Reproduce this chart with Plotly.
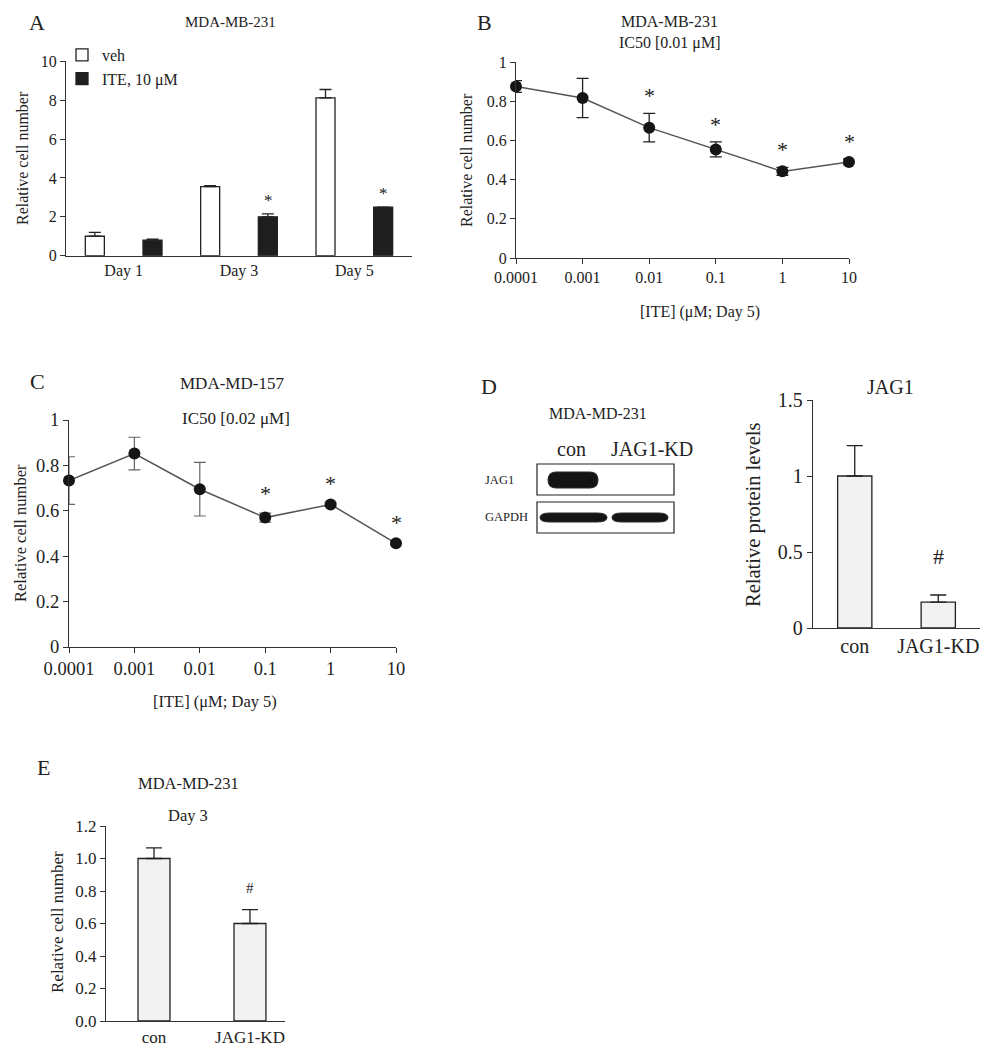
import math
import plotly.graph_objects as go

# The page body has an 8 px margin; coordinates below are screen pixels of the 994x1050 window.
OFF = 8
W, H = 994 - OFF, 1050 - OFF


def px(x):
    return (x - OFF) / W


def py(y):
    return 1 - (y - OFF) / H


# ---------------- data ----------------
days = ["Day 1", "Day 3", "Day 5"]
veh_vals = [1.0, 3.55, 8.12]
veh_err = [0.2, 0.05, 0.43]
ite_vals = [0.8, 2.0, 2.5]
ite_err = [0.05, 0.15, 0.0]
ite_sig = ["", "*", "*"]

conc = [0.0001, 0.001, 0.01, 0.1, 1, 10]
conc_labels = ["0.0001", "0.001", "0.01", "0.1", "1", "10"]
b_vals = [0.875, 0.816, 0.665, 0.554, 0.442, 0.49]
b_err = [0.03, 0.10, 0.073, 0.038, 0.02, 0.015]
b_sig = ["", "", "*", "*", "*", "*"]
c_vals = [0.733, 0.852, 0.695, 0.570, 0.628, 0.457]
c_err = [0.105, 0.072, 0.118, 0.02, 0.008, 0.006]
c_sig = ["", "", "", "*", "*", "*"]

kd_groups = ["con", "JAG1-KD"]
d_vals = [1.0, 0.17]
d_err = [0.2, 0.047]
d_sig = ["", "#"]
e_vals = [1.0, 0.6]
e_err = [0.065, 0.085]
e_sig = ["", "#"]

FONT = "Liberation Serif, Times New Roman, DejaVu Serif, serif"
INK = "#222222"
AX = "#333333"

fig = go.Figure()

# ---------------- panel A ----------------
fig.add_trace(go.Bar(
    x=days, y=veh_vals, name="veh", width=0.165, offset=-0.3325,
    marker=dict(color="white", line=dict(color=INK, width=1.3)),
    error_y=dict(type="data", symmetric=False, array=veh_err, arrayminus=[0] * len(veh_err),
                 color=INK, thickness=1.3, width=6),
    xaxis="x", yaxis="y", showlegend=True))
fig.add_trace(go.Bar(
    x=days, y=ite_vals, name="ITE, 10 μM", width=0.165, offset=0.1675,
    marker=dict(color="#1e1e1e", line=dict(color=INK, width=1.3)),
    error_y=dict(type="data", symmetric=False, array=ite_err, arrayminus=[0] * len(ite_err),
                 color=INK, thickness=1.3, width=6),
    xaxis="x", yaxis="y", showlegend=True))

# ---------------- panel B ----------------
fig.add_trace(go.Scatter(
    x=conc, y=b_vals, mode="lines+markers",
    line=dict(color="#555555", width=1.5),
    marker=dict(size=12, color="#151515"),
    error_y=dict(type="data", array=b_err, color=INK, thickness=1.3, width=6),
    xaxis="x2", yaxis="y2", showlegend=False, cliponaxis=False))

# ---------------- panel C ----------------
fig.add_trace(go.Scatter(
    x=conc, y=c_vals, mode="lines+markers",
    line=dict(color="#555555", width=1.5),
    marker=dict(size=12, color="#151515"),
    error_y=dict(type="data", array=c_err, color="#666666", thickness=1.2, width=6),
    xaxis="x3", yaxis="y3", showlegend=False, cliponaxis=False))

# ---------------- panel D (bars) ----------------
fig.add_trace(go.Bar(
    x=kd_groups, y=d_vals, width=0.41,
    marker=dict(color="#f2f2f2", line=dict(color=INK, width=1.3)),
    error_y=dict(type="data", symmetric=False, array=d_err, arrayminus=[0] * len(d_err),
                 color=INK, thickness=1.3, width=8),
    xaxis="x4", yaxis="y4", showlegend=False))

# ---------------- panel E ----------------
fig.add_trace(go.Bar(
    x=kd_groups, y=e_vals, width=0.333,
    marker=dict(color="#f2f2f2", line=dict(color=INK, width=1.3)),
    error_y=dict(type="data", symmetric=False, array=e_err, arrayminus=[0] * len(e_err),
                 color=INK, thickness=1.3, width=8),
    xaxis="x5", yaxis="y5", showlegend=False))


def xdom(a, b):
    return [px(a), px(b)]


def ydom(top, bottom):
    return [py(bottom), py(top)]


def yax(dom, rng, size, dtick, anchor, fmt=None):
    d = dict(domain=dom, range=rng, dtick=dtick, tick0=0, showline=True, linecolor=AX,
             linewidth=1.3, ticks="outside", ticklen=5, tickcolor=AX, tickwidth=1.2,
             showgrid=False, zeroline=False, anchor=anchor, automargin=False,
             tickfont=dict(family=FONT, size=size, color=INK))
    if fmt:
        d["tickformat"] = fmt
    return d


def xcat(dom, rng, size, anchor):
    return dict(domain=dom, range=rng, type="category", showline=True, linecolor=AX,
                linewidth=1.3, ticks="", showgrid=False, zeroline=False, anchor=anchor,
                automargin=False, tickfont=dict(family=FONT, size=size, color=INK))


def xlog(dom, size, anchor):
    return dict(domain=dom, type="log", range=[-4, 1], tickvals=conc, ticktext=conc_labels,
                showline=True, linecolor=AX, linewidth=1.3, ticks="outside", ticklen=5,
                tickcolor=AX, tickwidth=1.2, showgrid=False, zeroline=False, anchor=anchor,
                automargin=False, tickfont=dict(family=FONT, size=size, color=INK))


layout = dict(
    template="none",
    width=W, height=H, margin=dict(l=0, r=0, t=0, b=0, pad=0, autoexpand=False),
    paper_bgcolor="white", plot_bgcolor="rgba(0,0,0,0)",
    barmode="overlay",
    font=dict(family=FONT, color=INK),
    xaxis=xcat(xdom(66, 412), [-0.5, 2.5], 16, "y"),
    yaxis=yax(ydom(61.3, 255.7), [0, 10], 16, 2, "x"),
    xaxis2=xlog(xdom(516, 849), 16, "y2"),
    yaxis2=yax(ydom(62, 258), [0, 1], 16, 0.2, "x2"),
    xaxis3=xlog(xdom(69, 396), 18.5, "y3"),
    yaxis3=yax(ydom(420, 647), [0, 1], 18.5, 0.2, "x3"),
    xaxis4=xcat(xdom(813, 980), [-0.5, 1.5], 20, "y4"),
    yaxis4=yax(ydom(400, 628), [0, 1.5], 20, 0.5, "x4"),
    xaxis5=xcat(xdom(106, 285), [-0.5, 1.365], 17, "y5"),
    yaxis5=yax(ydom(826, 1021), [0, 1.2], 17, 0.2, "x5", fmt=".1f"),
    legend=dict(x=px(62), y=py(38), xanchor="left", yanchor="top",
                bgcolor="rgba(0,0,0,0)", font=dict(family=FONT, size=16, color=INK),
                itemwidth=30, tracegroupgap=0, traceorder="normal"),
)
fig.update_layout(**layout)

ann = []


def text(x, y, s, size, angle=0, xanchor="center", yanchor="middle"):
    ann.append(dict(x=px(x), y=py(y), xref="paper", yref="paper", text=s, showarrow=False,
                    textangle=angle, xanchor=xanchor, yanchor=yanchor,
                    font=dict(family=FONT, size=size, color=INK)))


# panel letters
text(37, 22, "A", 22)
text(484, 22, "B", 22)
text(37, 382, "C", 22)
text(489, 386, "D", 22)
text(43, 767, "E", 22)

# panel A texts
text(230, 22, "MDA-MB-231", 15)
text(22, 158, "Relative cell number", 16, angle=-90)

# panel B texts
text(669, 21, "MDA-MB-231", 16)
text(669, 43, "IC50 [0.01 μM]", 16)
text(466, 160, "Relative cell number", 16, angle=-90)
text(700, 312, "[ITE] (μM; Day 5)", 16)

# panel C texts
text(232, 383, "MDA-MD-157", 17)
text(236, 419, "IC50 [0.02 μM]", 17)
text(20, 533, "Relative cell number", 16.5, angle=-90)
text(215, 702, "[ITE] (μM; Day 5)", 16.5)

# panel D texts
text(598, 413, "MDA-MD-231", 16)
text(571, 449, "con", 20)
text(652, 449, "JAG1-KD", 20)
text(516, 480, "JAG1", 12.5, xanchor="right")
text(530, 517, "GAPDH", 12.5, xanchor="right")
text(890, 387, "JAG1", 20)
text(753, 515, "Relative protein levels", 20.5, angle=-90)

# panel E texts
text(188, 783, "MDA-MD-231", 16.5)
text(188, 815, "Day 3", 16.5)
text(57, 922, "Relative cell number", 17, angle=-90)

# significance markers from data
for d, v, e, s in zip(days, ite_vals, ite_err, ite_sig):
    if s:
        ann.append(dict(x=d, y=v + e, xref="x", yref="y", text=s, showarrow=False,
                        xshift=29, yshift=2, yanchor="bottom",
                        font=dict(family=FONT, size=17, color=INK)))
for c, v, e, s in zip(conc, b_vals, b_err, b_sig):
    if s:
        ann.append(dict(x=math.log10(c), y=v + e, xref="x2", yref="y2", text=s,
                        showarrow=False, yshift=3, yanchor="bottom",
                        font=dict(family=FONT, size=22, color=INK)))
for c, v, e, s in zip(conc, c_vals, c_err, c_sig):
    if s:
        ann.append(dict(x=math.log10(c), y=v + e, xref="x3", yref="y3", text=s,
                        showarrow=False, yshift=5, yanchor="bottom",
                        font=dict(family=FONT, size=22, color=INK)))
for g, v, e, s in zip(kd_groups, d_vals, d_err, d_sig):
    if s:
        ann.append(dict(x=g, y=v + e, xref="x4", yref="y4", text=s, showarrow=False,
                        yshift=24, yanchor="bottom",
                        font=dict(family=FONT, size=22, color=INK)))
for g, v, e, s in zip(kd_groups, e_vals, e_err, e_sig):
    if s:
        ann.append(dict(x=g, y=v + e, xref="x5", yref="y5", text=s, showarrow=False,
                        yshift=12, yanchor="bottom",
                        font=dict(family=FONT, size=15, color=INK)))

fig.update_layout(annotations=ann)

# ---------------- western blot drawing (panel D, left) ----------------
shapes = []


def rect(x0, y0, x1, y1, fill="white", line=INK, lw=1.2):
    shapes.append(dict(type="rect", xref="paper", yref="paper", x0=px(x0), x1=px(x1),
                       y0=py(y1), y1=py(y0), fillcolor=fill,
                       line=dict(color=line, width=lw), layer="below"))


def band(x0, y0, x1, y1, r):
    ym = (y0 + y1) / 2
    pts = (f"M{px(x0)},{py(ym)} Q{px(x0)},{py(y0)} {px(x0 + r)},{py(y0)} "
           f"L{px(x1 - r)},{py(y0)} Q{px(x1)},{py(y0)} {px(x1)},{py(ym)} "
           f"Q{px(x1)},{py(y1)} {px(x1 - r)},{py(y1)} L{px(x0 + r)},{py(y1)} "
           f"Q{px(x0)},{py(y1)} {px(x0)},{py(ym)} Z")
    shapes.append(dict(type="path", xref="paper", yref="paper", path=pts,
                       fillcolor="#141414", line=dict(color="#2a2a2a", width=1), layer="above"))


rect(537, 464, 674, 495)
rect(537, 502, 674, 533)
band(548, 472, 598, 488, 8)
band(540, 513, 607, 522, 10)
band(612, 513, 668, 522, 10)

fig.update_layout(shapes=shapes)

fig.write_html("out.html")
